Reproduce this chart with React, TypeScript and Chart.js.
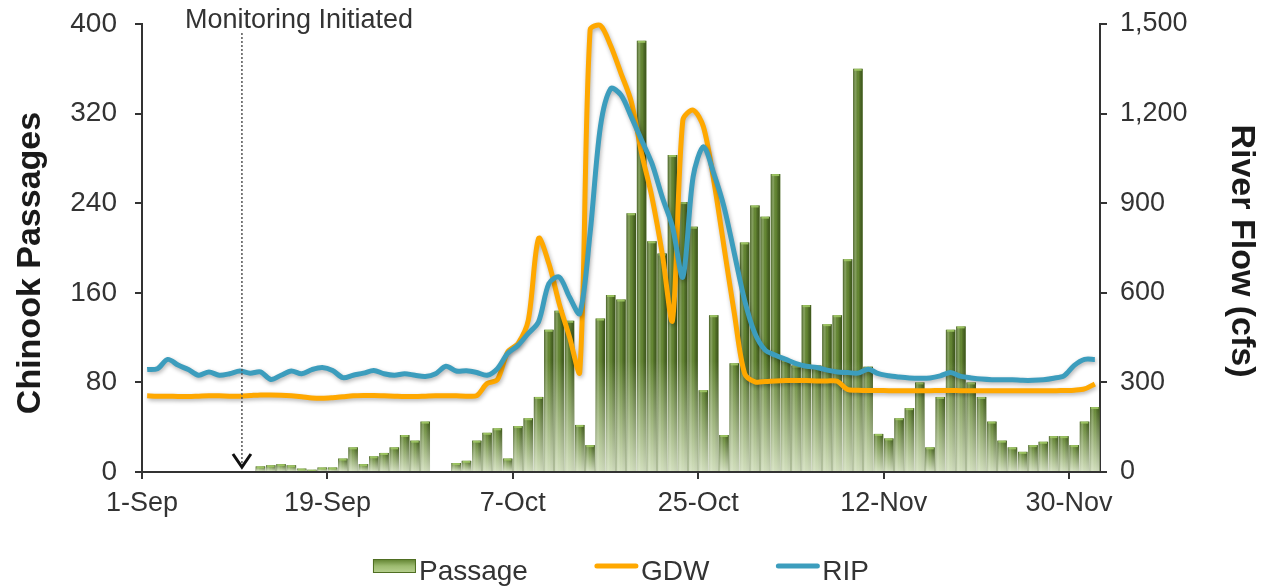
import React, { useEffect, useRef } from 'react';
import { Chart, registerables } from 'chart.js';

Chart.register(...registerables);

// ---- data (one value per day, starting 1-Sep) ----
const passage = [
  0, 0, 0, 0, 0, 0, 0, 0, 0, 0, 0,
  5, 6, 7, 6, 3, 2, 4, 4, 12, 22, 7, 14, 17, 22, 33, 28, 45,
  0, 0,
  8, 10, 28, 35, 39, 12, 41, 48, 67, 127, 144, 135, 42, 24, 137, 158, 154, 231, 385, 206,
  195, 283, 241, 219, 73, 140, 33, 97, 205, 238, 228, 266, 100, 95, 149, 95, 132, 140, 190, 360,
  94, 34, 30, 48, 57, 80, 22, 67, 127, 130, 80, 67, 45, 28, 22, 18, 24, 27, 32, 32, 24, 45, 58,
];

const gdw = [
  255, 254, 254, 253, 253, 254, 255, 255, 254, 254,
  256, 258, 258, 257, 255, 252, 248, 247, 249, 252,
  255, 256, 256, 255, 254, 253, 253, 254, 255, 255,
  255, 254, 256, 296, 309, 402, 430, 508, 782, 698,
  564, 452, 335, 1480, 1495, 1427, 1335, 1240, 1067, 921,
  732, 508, 1178, 1212, 1156, 977, 754, 531, 330, 302,
  303, 305, 306, 306, 306, 305, 305, 304, 276, 274,
  273, 273, 272, 272, 272, 272, 272, 273, 273, 272,
  272, 272, 272, 272, 272, 272, 272, 272, 272, 273,
  274, 278, 295,
];

const rip = [
  343, 346, 377, 358, 343, 324, 335, 324, 329, 338,
  331, 335, 310, 324, 338, 329, 343, 350, 340, 316,
  324, 331, 340, 329, 324, 329, 324, 320, 329, 354,
  338, 339, 333, 324, 346, 397, 424, 464, 503, 631,
  653, 586, 531, 800, 1156, 1284, 1262, 1189, 1111, 1033,
  921, 821, 653, 988, 1089, 1000, 888, 732, 575, 464,
  408, 391, 377, 363, 354, 350, 341, 335, 333, 331,
  344, 329, 322, 318, 315, 314, 315, 322, 333, 320,
  315, 311, 309, 309, 309, 307, 307, 309, 314, 322,
  357, 377, 377,
];

const totalDays = 93;
const xTickDays = [0, 18, 36, 54, 72, 90];
const xTickLabels = ['1-Sep', '19-Sep', '7-Oct', '25-Oct', '12-Nov', '30-Nov'];
const monitoringDay = 9.7;
const monitoringLabel = 'Monitoring Initiated';
const seriesLabels = ['Passage', 'GDW', 'RIP'];
const leftTitle = 'Chinook Passages';
const rightTitle = 'River Flow (cfs)';

const FONT = "'Liberation Sans', Arial, Helvetica, sans-serif";
const BAR_GREEN = '#658833';
const ORANGE = '#FFA800';
const TEAL = '#3C9DBD';

const barStylePlugin = {
  id: 'barStyle',
  afterDatasetDraw(chart: any, args: any) {
    if (args.index !== 0) return;
    const ctx = chart.ctx;
    args.meta.data.forEach((el: any) => {
      const { x, y, base, width } = el.getProps(['x', 'y', 'base', 'width'], true);
      const h = base - y;
      if (h < 0.5) return;
      const l = x - width / 2;
      ctx.save();
      const hg = ctx.createLinearGradient(l, 0, l + width, 0);
      hg.addColorStop(0, 'rgba(35,55,10,0.6)');
      hg.addColorStop(0.3, 'rgba(255,255,255,0.18)');
      hg.addColorStop(0.55, 'rgba(0,0,0,0)');
      hg.addColorStop(1, 'rgba(35,55,10,0.6)');
      ctx.fillStyle = hg;
      ctx.fillRect(l, y, width, h);
      const top = Math.max(y, base - 110);
      const vg = ctx.createLinearGradient(0, top, 0, base);
      vg.addColorStop(0, 'rgba(236,244,222,0)');
      vg.addColorStop(1, 'rgba(236,244,222,0.8)');
      ctx.fillStyle = vg;
      ctx.fillRect(l, top, width, base - top);
      ctx.fillStyle = 'rgba(160,200,100,0.9)';
      ctx.fillRect(l + 1, y, Math.max(0, width - 2), Math.min(2, h));
      ctx.restore();
    });
  },
};

const lineShadowPlugin = {
  id: 'lineShadow',
  beforeDatasetDraw(chart: any, args: any) {
    if (args.meta.type !== 'line') return;
    const ctx = chart.ctx;
    ctx.save();
    ctx.shadowColor = 'rgba(0,0,0,0.3)';
    ctx.shadowBlur = 4;
    ctx.shadowOffsetX = 1;
    ctx.shadowOffsetY = 2;
  },
  afterDatasetDraw(chart: any, args: any) {
    if (args.meta.type !== 'line') return;
    chart.ctx.restore();
  },
};

const axisTitlePlugin = {
  id: 'axisTitles',
  afterDraw(chart: any) {
    const { ctx } = chart;
    ctx.save();
    ctx.font = `bold 34px ${FONT}`;
    ctx.fillStyle = '#1a1a1a';
    ctx.textAlign = 'center';
    ctx.textBaseline = 'middle';
    ctx.save();
    ctx.translate(31, 263);
    ctx.rotate(-Math.PI / 2);
    ctx.fillText(leftTitle, 0, 0);
    ctx.restore();
    ctx.save();
    ctx.translate(1241, 251);
    ctx.rotate(Math.PI / 2);
    ctx.fillText(rightTitle, 0, 0);
    ctx.restore();
    ctx.restore();
  },
};

const monitoringPlugin = {
  id: 'monitoring',
  afterDraw(chart: any) {
    const { ctx } = chart;
    const xs = chart.scales.x;
    const ys = chart.scales.y;
    const px = xs.getPixelForValue(monitoringDay);
    const bottom = ys.getPixelForValue(0) - 5;
    ctx.save();
    ctx.strokeStyle = '#555';
    ctx.lineWidth = 1.5;
    ctx.setLineDash([2, 2]);
    ctx.beginPath();
    ctx.moveTo(px, 33);
    ctx.lineTo(px, bottom);
    ctx.stroke();
    ctx.setLineDash([]);
    ctx.strokeStyle = '#111';
    ctx.lineWidth = 3;
    ctx.lineJoin = 'miter';
    ctx.beginPath();
    ctx.moveTo(px - 9, bottom - 13);
    ctx.lineTo(px, bottom);
    ctx.lineTo(px + 9, bottom - 13);
    ctx.stroke();
    ctx.font = `27px ${FONT}`;
    ctx.fillStyle = '#333';
    ctx.textAlign = 'left';
    ctx.textBaseline = 'alphabetic';
    ctx.fillText(monitoringLabel, px - 57, 28);
    ctx.restore();
  },
};

const legendPlugin = {
  id: 'customLegend',
  afterDraw(chart: any) {
    const { ctx, chartArea } = chart;
    ctx.save();
    ctx.font = `28px ${FONT}`;
    const markerW = 43;
    const gap = 3;
    const itemGap = 67;
    const widths = seriesLabels.map((t) => ctx.measureText(t).width);
    const total = widths.reduce((a, w) => a + markerW + gap + w, 0) + itemGap * (seriesLabels.length - 1);
    let x = (chartArea.left + chartArea.right) / 2 - total / 2;
    const baseline = 580;
    seriesLabels.forEach((label, i) => {
      if (i === 0) {
        const g = ctx.createLinearGradient(0, 559, 0, 573);
        g.addColorStop(0, '#5d7f2c');
        g.addColorStop(0.5, '#9dbb70');
        g.addColorStop(1, '#b9d191');
        ctx.fillStyle = g;
        ctx.fillRect(x, 559, markerW, 14);
        ctx.strokeStyle = '#4f6e22';
        ctx.lineWidth = 1;
        ctx.strokeRect(x + 0.5, 559.5, markerW - 1, 13);
      } else {
        ctx.strokeStyle = i === 1 ? ORANGE : TEAL;
        ctx.lineWidth = 5;
        ctx.lineCap = 'round';
        ctx.beginPath();
        ctx.moveTo(x + 2, 566);
        ctx.lineTo(x + markerW - 2, 566);
        ctx.stroke();
      }
      ctx.fillStyle = '#333';
      ctx.textAlign = 'left';
      ctx.textBaseline = 'alphabetic';
      ctx.fillText(label, x + markerW + gap, baseline);
      x += markerW + gap + widths[i] + itemGap;
    });
    ctx.restore();
  },
};

export default function App() {
  const canvasRef = useRef<HTMLCanvasElement | null>(null);

  useEffect(() => {
    document.body.style.margin = '0';
    const canvas = canvasRef.current;
    if (!canvas) return;

    const axisColor = '#333';
    const tickFontL = { family: FONT, size: 28 };
    const tickFont = { family: FONT, size: 27 };

    const fitVertical = (w: number) => (s: any) => {
      s.width = w;
      s.paddingTop = 0;
      s.paddingBottom = 0;
    };

    const chart = new Chart(canvas, {
      type: 'bar',
      data: {
        datasets: [
          {
            type: 'bar',
            label: seriesLabels[0],
            data: passage.map((v, i) => ({ x: i + 0.5, y: v })),
            xAxisID: 'x',
            yAxisID: 'y',
            backgroundColor: BAR_GREEN,
            borderWidth: 0,
            barPercentage: 0.92,
            categoryPercentage: 1,
            order: 3,
          },
          {
            type: 'line',
            label: seriesLabels[1],
            data: gdw.map((v, i) => ({ x: i + 0.5, y: v })),
            xAxisID: 'x',
            yAxisID: 'y1',
            borderColor: ORANGE,
            backgroundColor: ORANGE,
            borderWidth: 5,
            pointRadius: 0,
            tension: 0.3,
            clip: false,
            order: 1,
          },
          {
            type: 'line',
            label: seriesLabels[2],
            data: rip.map((v, i) => ({ x: i + 0.5, y: v })),
            xAxisID: 'x',
            yAxisID: 'y1',
            borderColor: TEAL,
            backgroundColor: TEAL,
            borderWidth: 5,
            pointRadius: 0,
            tension: 0.3,
            clip: false,
            order: 0,
          },
        ] as any,
      },
      options: {
        animation: false,
        responsive: false,
        maintainAspectRatio: false,
        layout: { autoPadding: false, padding: { top: 24, left: 0, right: 0, bottom: 0 } },
        plugins: {
          legend: { display: false },
          tooltip: { enabled: false },
        },
        scales: {
          x: {
            type: 'linear',
            min: 0,
            max: totalDays,
            offset: false,
            grid: {
              offset: false,
              drawOnChartArea: false,
              drawTicks: true,
              tickLength: 7,
              color: axisColor,
              lineWidth: 2,
            },
            border: { display: true, color: axisColor, width: 2 },
            ticks: {
              font: tickFont,
              color: '#333',
              padding: 8,
              maxRotation: 0,
              autoSkip: false,
              callback: (v: any) => {
                const i = xTickDays.indexOf(Number(v));
                return i >= 0 ? xTickLabels[i] : '';
              },
            },
            afterBuildTicks: (s: any) => {
              s.ticks = xTickDays.map((v) => ({ value: v }));
            },
            afterFit: (s: any) => {
              s.height = 116;
            },
          },
          y: {
            type: 'linear',
            position: 'left',
            min: 0,
            max: 400,
            grid: {
              drawOnChartArea: false,
              drawTicks: true,
              tickLength: 7,
              color: axisColor,
              lineWidth: 2,
            },
            border: { display: true, color: axisColor, width: 2 },
            ticks: { stepSize: 80, font: tickFontL, color: '#333', padding: 18 },
            afterFit: fitVertical(142),
          },
          y1: {
            type: 'linear',
            position: 'right',
            min: 0,
            max: 1500,
            grid: {
              drawOnChartArea: false,
              drawTicks: true,
              tickLength: 7,
              color: axisColor,
              lineWidth: 2,
            },
            border: { display: true, color: axisColor, width: 2 },
            ticks: { stepSize: 300, font: tickFont, color: '#333', padding: 13 },
            afterFit: fitVertical(174),
          },
        },
      } as any,
      plugins: [barStylePlugin, lineShadowPlugin, axisTitlePlugin, monitoringPlugin, legendPlugin],
    });

    return () => {
      chart.destroy();
    };
  }, []);

  return (
    <div style={{ width: 1274, height: 588, overflow: 'hidden', background: '#fff' }}>
      <canvas ref={canvasRef} width={1274} height={588} style={{ display: 'block' }} />
    </div>
  );
}
